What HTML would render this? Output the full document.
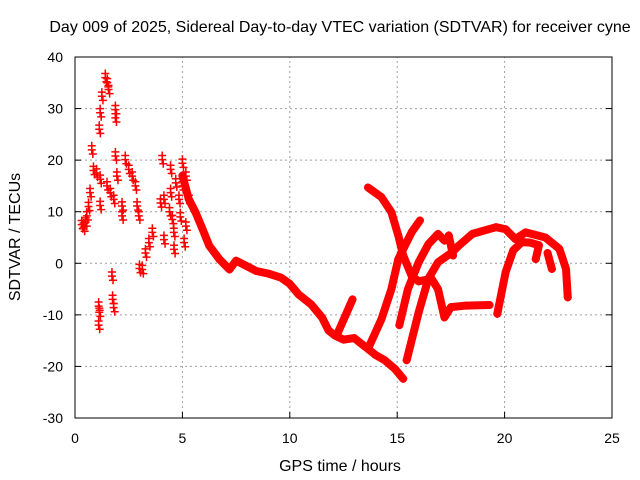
<!DOCTYPE html>
<html><head><meta charset="utf-8">
<style>
html,body{margin:0;padding:0;background:#fff;}
svg{display:block;font-family:"Liberation Sans",sans-serif;}
</style></head>
<body>
<svg id="chart" width="640" height="480" viewBox="0 0 640 480">
<text x="340" y="32" font-size="16" text-anchor="middle" fill="#000">Day 009 of 2025, Sidereal Day-to-day VTEC variation (SDTVAR) for receiver cyne</text>
<text x="340" y="471" font-size="16" text-anchor="middle" fill="#000">GPS time / hours</text>
<text transform="translate(20,237) rotate(-90)" font-size="16" text-anchor="middle" fill="#000">SDTVAR / TECUs</text>
<g id="grid"></g>
<g id="ticks"></g>
<g id="marks"></g>
<rect x="75" y="57" width="537" height="361" fill="none" stroke="#000" stroke-width="1"/>
</svg>
<script>
const xTicks=[0,5,10,15,20,25];
const yTicks=[-30,-20,-10,0,10,20,30,40];
const scatter=[[0.31,7.5],[0.4,7],[0.5,8],[0.55,9.2],[0.63,11],[0.7,13.7],[0.78,22],[0.86,18],[1.0,17.5],[1.17,16.3],[1.17,11.2],[1.1,-8.3],[1.13,-9.5],[1.1,-12],[1.72,-2.5],[1.75,-7],[1.8,-8.6],[1.13,26],[1.17,29.2],[1.25,32.4],[1.41,36],[1.5,35],[1.56,33.7],[1.88,29.8],[1.88,28.2],[1.49,15],[1.64,13.7],[1.8,12.4],[1.88,20.8],[1.95,16.9],[2.19,11.1],[2.19,9.2],[2.34,20.1],[2.5,18.2],[2.66,16.9],[2.81,15],[2.89,11.1],[2.97,9.2],[3.13,-1.2],[3.0,-1],[3.28,2],[3.44,4],[3.6,6],[4.06,20.1],[3.98,11.7],[4.14,12.4],[4.14,4.6],[4.45,18.2],[4.45,13.7],[4.53,8.5],[4.61,2.7],[4.69,15.6],[4.84,12.4],[5.0,19.4],[5.16,16.9],[5.16,7.2],[5.08,4],[5.3,12.4],[4.4,10],[4.6,6],[4.9,9],[5.0,15]];
const trackMain=[[5.0,17],[5.3,12.4],[5.62,9.8],[5.94,6.6],[6.25,3.4],[6.72,0.8],[7.19,-1.2],[7.5,0.5],[7.97,-0.5],[8.44,-1.5],[9,-2],[9.6,-2.8],[10,-4],[10.4,-6],[11,-8],[11.5,-10.5],[11.8,-13],[12.1,-14],[12.5,-14.8],[13,-14.5],[13.3,-15.5],[13.64,-16.6],[14,-17.8],[14.42,-18.8],[14.9,-20.5],[15.28,-22.4]];
const trackB=[[12.2,-13.8],[12.5,-11],[12.92,-7]];
const trackC=[[13.64,14.7],[14.27,12.8],[14.73,9.9],[15.05,5.4],[15.28,1.5],[15.67,-2.4],[16.0,-3.5],[16.6,-3],[16.9,-5],[17.2,-10.5],[17.5,-8.5],[18.2,-8.2],[19.3,-8.1]];
const trackD=[[13.64,-16.6],[14.27,-10.8],[14.73,-5],[15.05,0.8],[15.67,6],[16.06,8.3]];
const trackE=[[15.1,-12],[15.5,-5],[16,0.2],[16.45,3.7],[16.9,5.7],[17.2,4.4]];
const trackF=[[15.44,-18.8],[16,-9.5],[16.45,-3],[16.9,0.2],[17.55,2.1],[17.86,3.4],[18.5,5.7],[19.6,7],[20.05,6.6],[20.5,4.7],[20.98,6],[21.9,5],[22.55,2.8],[22.86,-1.1],[22.94,-6.6]];
const trackG=[[17.4,5.4],[17.6,1.5]];
const trackH=[[19.66,-9.8],[20.05,-1.7],[20.4,2.5],[20.8,4.1],[21.2,4],[21.6,3.5],[21.45,0.8]];
const trackI=[[22.0,2],[22.2,-1.1]];
const tracks=[trackMain,trackB,trackC,trackD,trackE,trackF,trackG,trackH,trackI];
const X0=75,X1=612,Y0=418,Y1=57;
function sx(t){return X0+(t-0)/(25-0)*(X1-X0);}
function sy(v){return Y0-(v+30)/(70)*(Y0-Y1);}
const NS="http://www.w3.org/2000/svg";
const grid=document.getElementById('grid'),ticks=document.getElementById('ticks'),marks=document.getElementById('marks');
function mk(tag,attrs,parent){const e=document.createElementNS(NS,tag);for(const k in attrs)e.setAttribute(k,attrs[k]);parent.appendChild(e);return e;}
xTicks.forEach(t=>{const x=sx(t);
 if(t>0&&t<25){const g=mk('line',{x1:x,y1:Y0,x2:x,y2:Y1,stroke:'#a0a0a0','stroke-dasharray':'2,3','stroke-width':1},grid);
 
 }
 const a=mk('line',{x1:x,y1:Y0,x2:x,y2:Y0-6,stroke:'#000'},ticks);
 
 
 const l=mk('text',{x:x,y:443,'font-size':14,'text-anchor':'middle'},ticks);l.textContent=t;
 
 
});
yTicks.forEach(v=>{const y=sy(v);
 if(v>-30&&v<40){const g=mk('line',{x1:X0,y1:y,x2:X1,y2:y,stroke:'#a0a0a0','stroke-dasharray':'2,3','stroke-width':1},grid);
 
 }
 const a=mk('line',{x1:X0,y1:y,x2:X0+6,y2:y,stroke:'#000'},ticks);
 
 
 const b=mk('line',{x1:X1,y1:y,x2:X1-6,y2:y,stroke:'#000'},ticks);
 
 
 const l=mk('text',{x:63,y:y+5,'font-size':14,'text-anchor':'end'},ticks);l.textContent=v;
 
 
});
function plus(t,v,name){const x=sx(t),y=sy(v);
 const p=mk('path',{d:`M${x-4},${y}H${x+4}M${x},${y-4}V${y+4}`,stroke:'#f00','stroke-width':1.5,fill:'none'},marks);
 
 }
tracks.forEach(tr=>{
 const pl=mk('polyline',{points:tr.map(p=>sx(p[0])+','+sy(p[1])).join(' '),stroke:'#f00','stroke-width':8,fill:'none','stroke-linejoin':'round','stroke-linecap':'round'},marks);
 
 
 tr.forEach(p=>plus(p[0],p[1],'track-point'));
});
scatter.forEach(p=>{plus(p[0],p[1],'scatter-point');plus(p[0],p[1]+0.8,'scatter-point');plus(p[0]+0.05,p[1]-0.8,'scatter-point');});
</script>
</body></html>
